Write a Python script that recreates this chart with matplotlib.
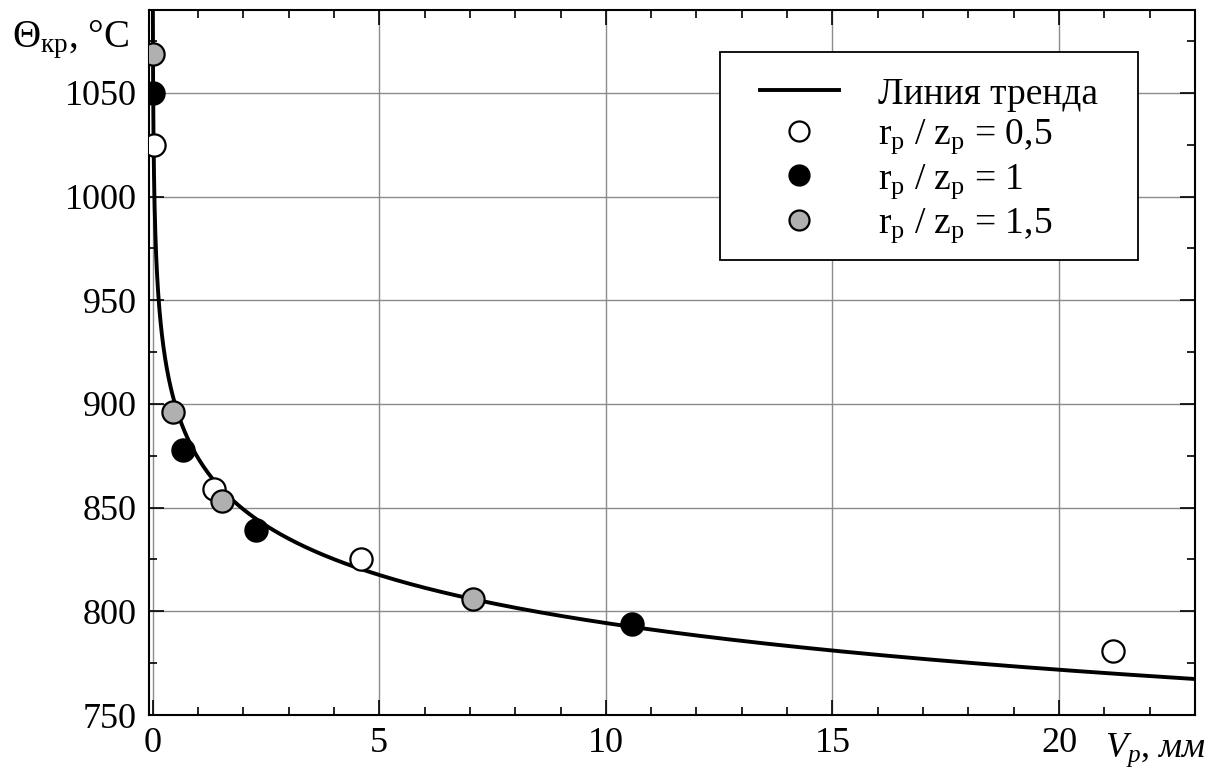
import numpy as np
import matplotlib
matplotlib.use("Agg")
import matplotlib.pyplot as plt
from matplotlib.patches import Rectangle
from matplotlib.ticker import MultipleLocator

plt.rcParams['font.family'] = ['Liberation Serif', 'DejaVu Serif']
plt.rcParams['mathtext.fontset'] = 'custom'
plt.rcParams['mathtext.rm'] = 'Liberation Serif'
plt.rcParams['mathtext.it'] = 'Liberation Serif:italic'

# experimental points, V_p (mm) vs critical temperature (°C)
v_05 = [0.02, 1.35, 4.6, 21.2]
t_05 = [1025, 859, 825, 781]
v_10 = [0.012, 0.68, 2.27, 10.58]
t_10 = [1050, 878, 839, 794]
v_15 = [0.008, 0.44, 1.53, 7.08]
t_15 = [1069, 896, 853, 806]

# power trend  T = a * V^b
trend_a = 874.0
trend_b = -0.0415

W, H = 1222, 774
fig = plt.figure(figsize=(W / 100, H / 100), dpi=100)
ax = fig.add_axes([149 / W, 59 / H, 1046 / W, 705 / H])

v_line = np.logspace(np.log10(0.004), np.log10(23.5), 600)
ax.plot(v_line, trend_a * v_line ** trend_b, color='black', lw=2.8,
        label='Линия тренда', zorder=3)

mk = dict(linestyle='none', marker='o', markersize=16, markeredgewidth=1.6,
          markeredgecolor='black', zorder=4)
ax.plot(v_05, t_05, markerfacecolor='white',
        label=r'r$_\mathrm{p}$ / z$_\mathrm{p}$ = 0,5', **mk)
ax.plot(v_10, t_10, markerfacecolor='black',
        label=r'r$_\mathrm{p}$ / z$_\mathrm{p}$ = 1', **mk)
ax.plot(v_15, t_15, markerfacecolor='#b0b0b0',
        label=r'r$_\mathrm{p}$ / z$_\mathrm{p}$ = 1,5', **mk)

ax.set_xlim(-0.08, 23)
ax.set_ylim(750, 1090)
ax.xaxis.set_major_locator(MultipleLocator(5))
ax.xaxis.set_minor_locator(MultipleLocator(1))
ax.yaxis.set_major_locator(MultipleLocator(50))
ax.yaxis.set_minor_locator(MultipleLocator(25))
ax.tick_params(which='both', direction='in', top=True, right=True,
               width=1.2, labelsize=26)
ax.tick_params(which='major', length=11, pad=9)
ax.tick_params(which='minor', length=6)
ax.grid(True, which='major', color='#8c8c8c', lw=1.0)
for s in ax.spines.values():
    s.set_linewidth(1.5)

# legend box drawn separately so the padding can differ per side
ax.add_patch(Rectangle((720 / W, 1 - 260 / H), 418 / W, 208 / H,
                       transform=fig.transFigure, facecolor='white',
                       edgecolor='black', lw=1.3, zorder=4.5, clip_on=False))
leg = ax.legend(loc='upper left', bbox_to_anchor=(760 / W, 1 - 77 / H),
                bbox_transform=fig.transFigure, borderaxespad=0, borderpad=0,
                fontsize=27, frameon=False, handlelength=2.1,
                handletextpad=1.05, labelspacing=0.15, markerscale=0.9)
leg.set_zorder(5)

fig.text(12 / W, 1 - 47 / H, r'$\Theta_{\mathrm{кр}}$, °C', fontsize=28,
         ha='left', va='baseline')
fig.text(1105 / W, 1 - 757 / H, r'$V_p$, $\mathit{мм}$', fontsize=26,
         ha='left', va='baseline')

fig.savefig('out.png', dpi=100)
